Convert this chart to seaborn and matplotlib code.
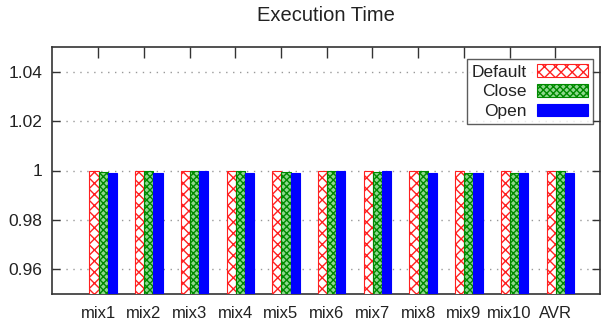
import numpy as np
import pandas as pd
import matplotlib
matplotlib.use("Agg")
import matplotlib.pyplot as plt
import seaborn as sns

categories = ["mix1", "mix2", "mix3", "mix4", "mix5", "mix6", "mix7", "mix8", "mix9", "mix10", "AVR"]
series_names = ["Default", "Close", "Open"]
default_vals = [1.0, 1.0, 1.0, 1.0, 1.0, 1.0, 1.0, 1.0, 1.0, 1.0, 1.0]
close_vals = [0.9995, 1.0, 1.0, 1.0, 0.9992, 1.0, 0.9993, 1.0, 0.9988, 0.9988, 1.0]
open_vals = [0.9988, 0.9988, 1.0, 0.9988, 0.9988, 1.0, 1.0, 0.9988, 0.9988, 0.9988, 0.9988]
ytick_vals = [0.96, 0.98, 1.0, 1.02, 1.04]
ytick_labels = ["0.96", "0.98", "1", "1.02", "1.04"]

rows = []
for name, vals in zip(series_names, [default_vals, close_vals, open_vals]):
    for c, v in zip(categories, vals):
        rows.append({"cat": c, "series": name, "value": v})
df = pd.DataFrame(rows)

sns.set_style("white")
plt.rcParams["font.family"] = ["Liberation Sans", "DejaVu Sans"]
plt.rcParams["hatch.linewidth"] = 1.0

fig = plt.figure(figsize=(6.06, 3.27), dpi=100)
ax = fig.add_axes([52/606, 1-294/327, (600-52)/606, (294-47)/327])

sns.barplot(data=df, x="cat", y="value", hue="series", order=categories,
            hue_order=series_names, width=0.6, ax=ax, legend=False,
            errorbar=None, zorder=3)

styles = [
    dict(facecolor="white", edgecolor="#ff2020", hatch="xxx"),
    dict(facecolor="#8fd88f", edgecolor="#008a00", hatch="xxxxx"),
    dict(facecolor="#0000ff", edgecolor="#0000ff", hatch=None),
]
for cont, st in zip(ax.containers, styles):
    for p in cont:
        p.set_facecolor(st["facecolor"])
        p.set_edgecolor(st["edgecolor"])
        p.set_hatch(st["hatch"])
        p.set_linewidth(0.8)

ax.set_ylim(0.95, 1.05)
ax.set_xlim(-1.12, 10.87)
ax.set_yticks(ytick_vals)
ax.set_yticklabels(ytick_labels, fontsize=12.5, color="#222222")
ax.set_xticks(np.arange(len(categories)) - 0.11)
ax.set_xticklabels(categories, fontsize=12, color="#222222")
ax.set_xlabel("")
ax.set_ylabel("")
ax.tick_params(axis="x", which="both", bottom=False, top=True, direction="in",
               length=8, width=1, color="#333333", pad=9)
ax.tick_params(axis="y", which="both", left=True, right=True, direction="in",
               length=6, width=1, color="#333333", pad=7)
ax.grid(axis="y", linestyle=(0, (1, 4)), color="#999999", linewidth=1, zorder=0)
ax.set_axisbelow(True)
for s in ax.spines.values():
    s.set_visible(True)
    s.set_color("#333333")
    s.set_linewidth(1.2)

ax.set_title("Execution Time", fontsize=14.5, pad=19, color="#222222")

leg = ax.legend(ax.containers, series_names, loc="upper right",
                bbox_to_anchor=(593/606, 1-59/327), bbox_transform=fig.transFigure,
                markerfirst=False, frameon=True, fancybox=False, fontsize=12.5,
                handlelength=2.9, handleheight=0.75, handletextpad=0.6,
                labelspacing=0.25, borderpad=0.3, borderaxespad=0)
leg.get_frame().set_edgecolor("#333333")
leg.get_frame().set_linewidth(1.0)
for t in leg.get_texts():
    t.set_ha("right")
    t.set_color("#222222")
leg._legend_box.align = "right"

fig.savefig("out.png", dpi=100)
